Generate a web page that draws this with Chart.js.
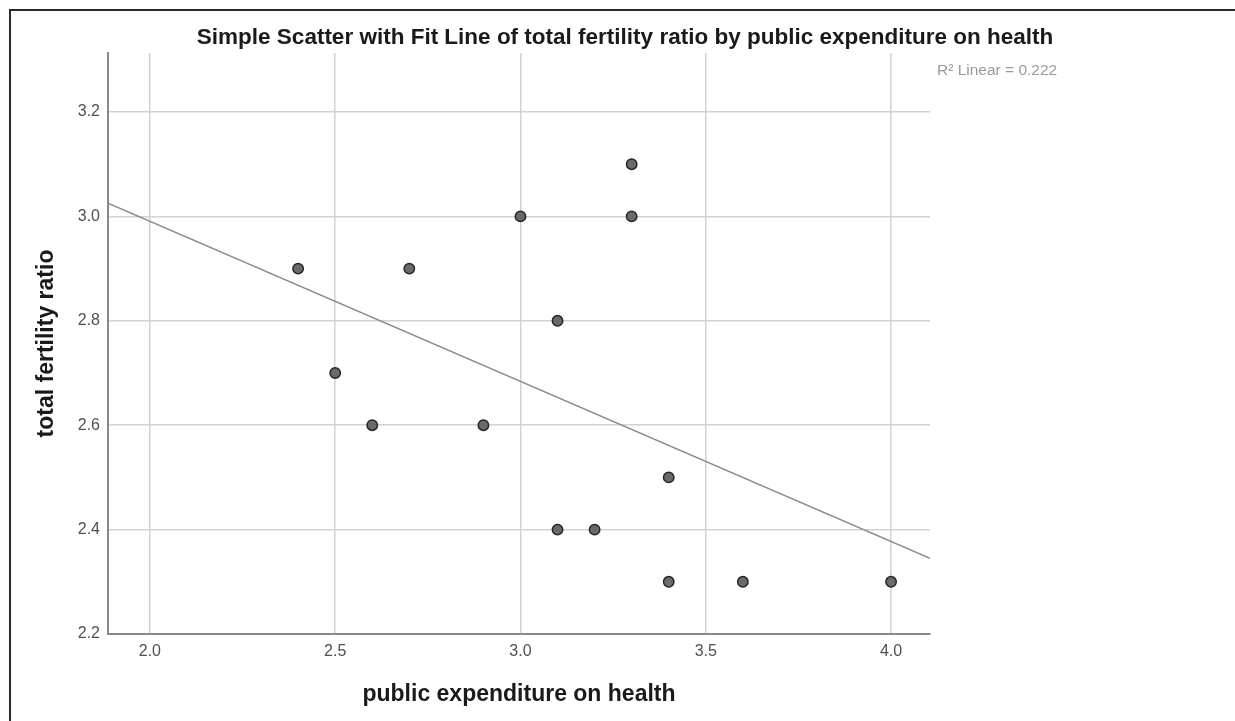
<!DOCTYPE html>
<html>
<head>
<meta charset="utf-8">
<script src="https://cdn.jsdelivr.net/npm/chart.js@4/dist/chart.umd.min.js"></script>
<style>
  html, body { margin: 0; padding: 0; background: #fff; }
  canvas { display: block; }
</style>
</head>
<body>
<canvas id="scatter-chart" width="1235" height="721"></canvas>
<script>
// public expenditure on health (x) and total fertility ratio (y)
xValues = [2.4, 2.5, 2.6, 2.7, 2.9, 3.0, 3.1, 3.1, 3.2, 3.3, 3.3, 3.4, 3.4, 3.6, 4.0]
yValues = [2.9, 2.7, 2.6, 2.9, 2.6, 3.0, 2.8, 2.4, 2.4, 3.1, 3.0, 2.5, 2.3, 2.3, 2.3]
xTicks = [2.0, 2.5, 3.0, 3.5, 4.0]
yTicks = [2.2, 2.4, 2.6, 2.8, 3.0, 3.2]
xMin = 1.887
xMax = 4.105
yMin = 2.2
yMax = 3.313
chartTitle = 'Simple Scatter with Fit Line of total fertility ratio by public expenditure on health'
fitLabel = 'R\u00B2 Linear = 0.222'

// least squares fit line through the points
fitLine = function(){
    var n = xValues.length
    var mx = 0, my = 0
    for (var i = 0; i < n; i++) { mx += xValues[i]; my += yValues[i] }
    mx = mx / n
    my = my / n
    var sxy = 0, sxx = 0
    for (var i = 0; i < n; i++) {
        sxy += (xValues[i] - mx) * (yValues[i] - my)
        sxx += (xValues[i] - mx) * (xValues[i] - mx)
    }
    var slope = sxy / sxx
    var icept = my - slope * mx
    return [{x: xMin, y: icept + slope * xMin}, {x: xMax, y: icept + slope * xMax}]
}

points = xValues.map(function(x, i){ return {x: x, y: yValues[i]} })

// frame, title and R² note drawn straight on the canvas
decorations = {
    id: 'decorations',
    afterDraw: function(chart){
        var c = chart.ctx
        c.save()
        c.strokeStyle = '#2b2b2b'
        c.lineWidth = 2
        c.beginPath()
        c.moveTo(10, 730)
        c.lineTo(10, 10)
        c.lineTo(1245, 10)
        c.stroke()

        c.fillStyle = '#1a1a1a'
        c.font = 'bold 22.5px "Liberation Sans", Arial, sans-serif'
        c.textAlign = 'center'
        c.textBaseline = 'alphabetic'
        c.fillText(chartTitle, 625, 44)

        c.fillStyle = '#9a9a9a'
        c.font = '15.5px "Liberation Sans", Arial, sans-serif'
        c.textAlign = 'left'
        c.fillText(fitLabel, 937, 75)
        c.restore()
    }
}

window.onload = function(){
    ctx = document.getElementById('scatter-chart');
    config = {
        type: 'scatter',
        data: {
            datasets: [{
                label: 'points',
                data: points,
                backgroundColor: '#6a6a6a',
                borderColor: '#262626',
                borderWidth: 1.5,
                pointRadius: 5.2,
                order: 1
            }, {
                label: 'fit',
                data: fitLine(),
                showLine: true,
                borderColor: '#8c8c8c',
                borderWidth: 1.5,
                pointRadius: 0,
                fill: false,
                order: 2
            }]
        },
        options: {
            responsive: false,
            animation: false,
            layout: { padding: { top: 53, right: 305, left: 0, bottom: 0 } },
            plugins: {
                legend: { display: false },
                tooltip: { enabled: false }
            },
            scales: {
                x: {
                    type: 'linear',
                    min: xMin,
                    max: xMax,
                    afterFit: function(s){ s.height = 87 },
                    afterBuildTicks: function(s){ s.ticks = xTicks.map(function(v){ return {value: v} }) },
                    ticks: {
                        padding: 8,
                        color: '#505050',
                        font: { size: 16, family: '"Liberation Sans", Arial, sans-serif' },
                        callback: function(v){ return v.toFixed(1) }
                    },
                    grid: { color: '#d2d2d2', lineWidth: 1.5, drawTicks: false },
                    border: { color: '#8a8a8a', width: 2 },
                    title: {
                        display: true,
                        text: 'public expenditure on health',
                        color: '#1a1a1a',
                        font: { size: 23, weight: 'bold', family: '"Liberation Sans", Arial, sans-serif' },
                        padding: { top: 0, bottom: 13 }
                    }
                },
                y: {
                    type: 'linear',
                    min: yMin,
                    max: yMax,
                    afterFit: function(s){ s.width = 108 },
                    afterBuildTicks: function(s){ s.ticks = yTicks.map(function(v){ return {value: v} }) },
                    ticks: {
                        padding: 8,
                        color: '#505050',
                        font: { size: 16, family: '"Liberation Sans", Arial, sans-serif' },
                        callback: function(v){ return v.toFixed(1) }
                    },
                    grid: { color: '#d2d2d2', lineWidth: 1.5, drawTicks: false },
                    border: { color: '#8a8a8a', width: 2 },
                    title: {
                        display: true,
                        text: 'total fertility ratio',
                        color: '#1a1a1a',
                        font: { size: 23, weight: 'bold', family: '"Liberation Sans", Arial, sans-serif' },
                        padding: { top: 33, bottom: 0 }
                    }
                }
            }
        },
        plugins: [decorations]
    };
    createNewChart = new Chart(ctx, config)
}
</script>
</body>
</html>
